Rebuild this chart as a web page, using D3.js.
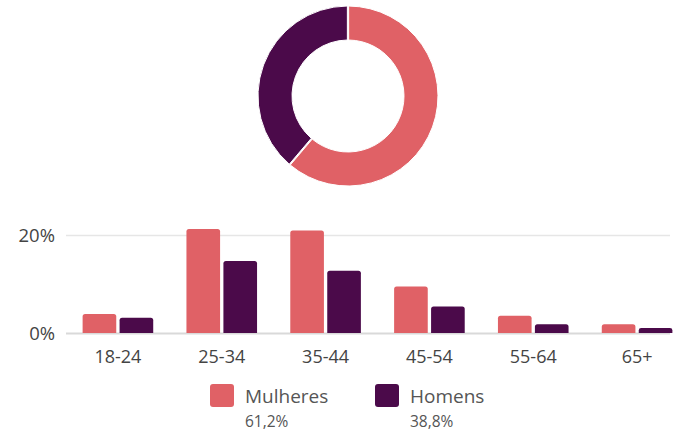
<!DOCTYPE html>
<html>
<head>
<meta charset="utf-8">
<script src="https://cdn.jsdelivr.net/npm/d3@7"></script>
<style>
  body { margin: 0; background: #fff; }
  text { font-family: "Open Sans", "Noto Sans", sans-serif; }
</style>
</head>
<body>
<svg width="674" height="431"></svg>
<script>
// data
var ageGroups = ["18-24", "25-34", "35-44", "45-54", "55-64", "65+"];
var women = [3.9, 21.2, 20.9, 9.5, 3.5, 1.8];
var men = [3.1, 14.7, 12.7, 5.4, 1.8, 1.0];
var seriesNames = ["Mulheres", "Homens"];
var seriesTotals = [61.2, 38.8];
var yTicks = [0, 20];

var colors = ["#e06166", "#4b0a4a"];

var svg = d3.select("svg"),
    width = +svg.attr("width"),
    height = +svg.attr("height");

// donut
var pie = d3.pie().sort(null).value(d => d);
var arc = d3.arc().innerRadius(56).outerRadius(90).padAngle(0.012);

var donut = svg.append("g")
    .attr("transform", "translate(348,96)");

donut.selectAll("path")
    .data(pie(seriesTotals))
    .enter()
    .append("path")
      .attr("d", arc)
      .attr("fill", (d, i) => colors[i])
      .attr("stroke", "#fff")
      .attr("stroke-width", 1);

// bar chart
var x = d3.scaleBand()
    .domain(ageGroups)
    .range([66, 689])
    .paddingInner(0.32)
    .paddingOuter(0.16);

var xSub = d3.scaleBand()
    .domain(seriesNames)
    .range([0, x.bandwidth()])
    .paddingInner(0.09);

var y = d3.scaleLinear()
    .domain([0, 20])
    .range([333, 235]);

// gridlines
svg.append("g")
  .selectAll("line")
  .data(yTicks)
  .enter()
  .append("line")
    .attr("x1", 66)
    .attr("x2", 670)
    .attr("y1", d => y(d) + 0.5)
    .attr("y2", d => y(d) + 0.5)
    .attr("stroke", d => d === 0 ? "#d9d9d9" : "#e6e6e6")
    .attr("stroke-width", d => d === 0 ? 2 : 1.5);

// y labels
svg.append("g")
  .selectAll("text")
  .data(yTicks)
  .enter()
  .append("text")
    .attr("x", 55)
    .attr("y", d => y(d) + 7)
    .attr("text-anchor", "end")
    .attr("fill", "#444")
    .style("font-size", "18.5px")
    .text(d => d + "%");

var rows = ageGroups.map((g, i) => ({ group: g, values: [women[i], men[i]] }));

var groups = svg.append("g")
  .selectAll("g")
  .data(rows)
  .enter()
  .append("g")
    .attr("transform", d => "translate(" + x(d.group) + ",0)");

groups.selectAll("path")
  .data(d => d.values.map((v, j) => ({ name: seriesNames[j], value: v, j: j })))
  .enter()
  .append("path")
    .attr("fill", d => colors[d.j])
    .attr("d", function(d) {
      var x0 = xSub(d.name), w = xSub.bandwidth();
      var y0 = y(d.value), y1 = y(0);
      var r = Math.min(2.5, (y1 - y0) / 2);
      return "M" + x0 + "," + y1 +
        "V" + (y0 + r) +
        "Q" + x0 + "," + y0 + " " + (x0 + r) + "," + y0 +
        "H" + (x0 + w - r) +
        "Q" + (x0 + w) + "," + y0 + " " + (x0 + w) + "," + (y0 + r) +
        "V" + y1 + "Z";
    });

// x labels
svg.append("g")
  .selectAll("text")
  .data(ageGroups)
  .enter()
  .append("text")
    .attr("x", d => x(d) + x.bandwidth() / 2)
    .attr("y", 363)
    .attr("text-anchor", "middle")
    .attr("fill", "#444")
    .style("font-size", "18px")
    .text(d => d);

// legend
var legendX = [210, 375];
var legend = svg.append("g")
  .selectAll("g")
  .data(seriesNames)
  .enter()
  .append("g")
    .attr("transform", (d, i) => "translate(" + legendX[i] + ",384)");

legend.append("rect")
    .attr("width", 24)
    .attr("height", 23)
    .attr("rx", 3)
    .attr("fill", (d, i) => colors[i]);

legend.append("text")
    .attr("x", 35)
    .attr("y", 19)
    .attr("fill", "#555")
    .style("font-size", "19px")
    .text(d => d);

legend.append("text")
    .attr("x", 35)
    .attr("y", 43)
    .attr("fill", "#555")
    .style("font-size", "15.5px")
    .text((d, i) => String(seriesTotals[i]).replace(".", ",") + "%");
</script>
</body>
</html>
